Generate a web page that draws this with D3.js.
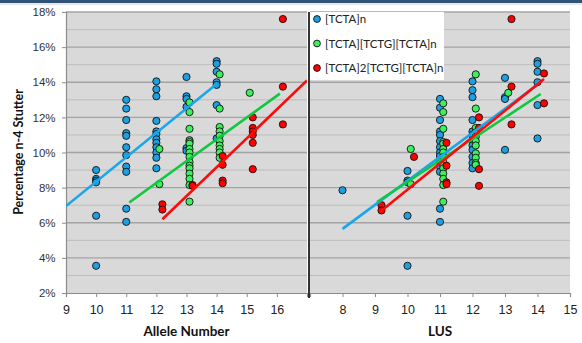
<!DOCTYPE html>
<html><head><meta charset="utf-8">
<script src="https://cdn.jsdelivr.net/npm/d3@7"></script>
<style>
html,body{margin:0;padding:0;background:#fff;}
svg{display:block;font-family:Lato,"Open Sans",sans-serif;}
</style></head>
<body><svg id="chart" width="582" height="343"></svg>
<script>
// ---- data ----
const seriesNames = ["[TCTA]n", "[TCTA][TCTG][TCTA]n", "[TCTA]2[TCTG][TCTA]n"];
const seriesColors = ["#1e9fe0", "#3ff05e", "#ff0000"];
const lineColors = ["#1aa6ea", "#10c840", "#ff0a0a"];
const yTicks = [2,4,6,8,10,12,14,16,18];
const alleleTicks = [9,10,11,12,13,14,15,16];
const lusTicks = [8,9,10,11,12,13,14,15];

// Allele number panel: [x, [stutter %...]]
const alleleTCTA = [
  [10, [9.0, 8.5, 8.4, 8.3, 6.4, 3.55]],
  [11, [13.0, 12.5, 11.85, 11.1, 10.95, 10.3, 9.85, 9.2, 8.9, 6.8, 6.05]],
  [12, [14.05, 13.6, 13.2, 11.8, 11.2, 11.05, 10.75, 10.55, 10.3, 10.0, 9.7, 9.1]],
  [13, [14.3, 13.2, 13.05, 12.6, 10.25, 10.1]],
  [14, [15.2, 15.05, 14.6, 14.0, 13.85, 12.7, 10.8]]
];
const alleleTCTG = [
  [12.1, [10.2, 8.2]],
  [13.1, [12.85, 12.3, 11.35, 10.7, 10.6, 10.5, 10.2, 10.0, 9.75, 9.45, 9.25, 9.1, 8.8, 8.5, 8.15, 7.2]],
  [14.1, [14.45, 12.5, 11.45, 11.2, 10.95, 10.65, 10.4, 10.2, 10.0, 9.7]],
  [15.1, [13.4]]
];
const alleleTCTA2 = [
  [12.2, [7.05, 6.75]],
  [13.2, [8.15, 8.1]],
  [14.2, [9.8, 9.3, 8.4, 8.25]],
  [15.2, [12.0, 11.4, 11.2, 11.0, 10.55, 9.05]],
  [16.2, [17.6, 13.75, 11.6]]
];
// LUS panel
const lusTCTA = [
  [8, [7.85]],
  [10, [8.95, 8.4, 8.3, 6.4, 3.55]],
  [11, [13.05, 12.55, 11.85, 11.2, 11.0, 10.65, 10.3, 10.0, 9.8, 9.5, 9.2, 8.9, 6.8, 6.05]],
  [12, [14.05, 13.55, 13.15, 11.85, 11.2, 11.0, 10.7, 10.4, 10.15, 9.75, 9.4, 9.1]],
  [13, [14.25, 13.15, 13.05, 10.15]],
  [14, [15.2, 15.05, 14.6, 14.0, 12.7, 10.8]]
];
const lusTCTG = [
  [10.1, [10.2, 8.2]],
  [11.1, [12.8, 12.3, 11.35, 10.6, 10.5, 10.2, 10.0, 9.75, 9.45, 9.25, 9.1, 8.8, 8.5, 8.15, 7.2]],
  [12.1, [14.45, 12.5, 11.4, 11.15, 10.9, 10.65, 10.4, 9.95, 9.7, 9.4, 9.3]],
  [13.1, [13.4]]
];
const lusTCTA2 = [
  [9.2, [7.0, 6.7]],
  [10.2, [9.75]],
  [11.2, [10.55, 9.25, 8.3, 8.2]],
  [12.2, [12.0, 11.4, 9.05, 8.1]],
  [13.2, [17.6, 13.75, 11.6]],
  [14.2, [14.5, 12.8]]
];
// linear trend lines: [[x0,y0],[x1,y1]]
const alleleTrends = [
  [[9, 6.95], [14, 13.9]],
  [[11.1, 7.15], [16.1, 13.35]],
  [[12.2, 6.2], [17, 14.1]]
];
const lusTrends = [
  [[8, 5.65], [14, 13.85]],
  [[9.06, 7.18], [14.1, 13.33]],
  [[9.15, 6.61], [14.2, 14.18]]
];

// ---- drawing ----
const svg = d3.select("#chart");
const y = d3.scaleLinear().domain([2, 18]).range([293, 12]);

// top band
svg.append("rect").attr("x",0).attr("y",0).attr("width",582).attr("height",3).attr("fill","#2f5275");
svg.append("rect").attr("x",0).attr("y",3).attr("width",582).attr("height",2).attr("fill","#e4e8ec");

function panel(x0, x1, domain, ticks, groups, trends, title, showY) {
  const x = d3.scaleLinear().domain(domain).range([x0, x1]);
  const g = svg.append("g");
  g.append("rect").attr("x", x0).attr("y", y(18)).attr("width", x1 - x0).attr("height", y(2) - y(18)).attr("fill", "#d9d9d9");
  // gridlines
  d3.range(3, 19).forEach(v => {
    g.append("line").attr("x1", x0).attr("x2", x1).attr("y1", y(v)).attr("y2", y(v))
      .attr("stroke", v % 2 === 0 ? "#a3a3a3" : "#bdbdbd").attr("stroke-width", v % 2 === 0 ? 1.3 : 1);
  });
  // x axis
  const xa = g.append("g").attr("transform", `translate(0,${y(2)})`)
    .call(d3.axisBottom(x).tickValues(d3.range(domain[0], domain[1] + 1)).tickSize(4).tickFormat(d => ticks.includes(d) ? d : ""));
  xa.select(".domain").attr("stroke", "#8c8c8c").attr("stroke-width", 1.2);
  xa.selectAll(".tick line").attr("stroke", "#8c8c8c");
  xa.selectAll("text").attr("font-size", 12.5).attr("fill", "#222").attr("dy", "1.15em");
  g.append("text").attr("x", (x0 + x1) / 2).attr("y", 336).attr("text-anchor", "middle")
    .attr("font-size", 13.5).attr("font-weight", "bold").attr("fill", "#111").text(title);
  if (showY) {
    const ya = g.append("g").attr("transform", `translate(${x0},0)`)
      .call(d3.axisLeft(y).tickValues(yTicks).tickSize(4).tickFormat(d => d + "%"));
    ya.select(".domain").attr("stroke", "#8c8c8c").attr("stroke-width", 1.2);
    ya.selectAll(".tick line").attr("stroke", "#8c8c8c");
    ya.selectAll("text").attr("font-size", 11.5).attr("fill", "#333").attr("dx", "-0.3em");
  }
  // points
  groups.forEach((grp, i) => {
    const pts = grp.flatMap(([xv, ys]) => ys.map(v => [xv, v]));
    g.selectAll(null).data(pts).enter().append("circle")
      .attr("cx", d => x(d[0])).attr("cy", d => y(d[1])).attr("r", 3.6)
      .attr("fill", seriesColors[i]).attr("stroke", "#111").attr("stroke-width", 0.9);
  });
  // trend lines
  const clipId = "clip" + x0;
  svg.append("clipPath").attr("id", clipId).append("rect")
    .attr("x", x0).attr("y", y(18)).attr("width", x1 - x0).attr("height", y(2) - y(18));
  const line = d3.line().x(d => x(d[0])).y(d => y(d[1]));
  trends.forEach((t, i) => {
    g.append("path").attr("d", line(t)).attr("fill", "none").attr("stroke", lineColors[i])
      .attr("stroke-width", 2.6).attr("clip-path", `url(#${clipId})`);
  });
  return x;
}

panel(66, 307, [9, 17], alleleTicks, [alleleTCTA, alleleTCTG, alleleTCTA2], alleleTrends, "Allele Number", true);
panel(310, 570, [7, 15], lusTicks, [lusTCTA, lusTCTG, lusTCTA2], lusTrends, "LUS", false);

// separator line
svg.append("line").attr("x1", 309).attr("x2", 309).attr("y1", 12).attr("y2", 298).attr("stroke", "#000").attr("stroke-width", 1.6);

// y title
svg.append("text").attr("transform", "translate(23,152) rotate(-90)").attr("text-anchor", "middle")
  .attr("font-size", 12.5).attr("font-weight", "bold").attr("fill", "#111").text("Percentage n-4 Stutter");

// legend
const lg = svg.append("g");
lg.append("rect").attr("x", 310).attr("y", 12).attr("width", 134).attr("height", 68).attr("fill", "#fff");
seriesNames.forEach((name, i) => {
  const cy = 19 + i * 24.5;
  lg.append("circle").attr("cx", 317).attr("cy", cy).attr("r", 3.4).attr("fill", seriesColors[i]).attr("stroke", "#111").attr("stroke-width", 0.9);
  lg.append("text").attr("x", 325).attr("y", cy + 4).attr("font-size", 11.5).attr("fill", "#222").text(name);
});
</script></body></html>
